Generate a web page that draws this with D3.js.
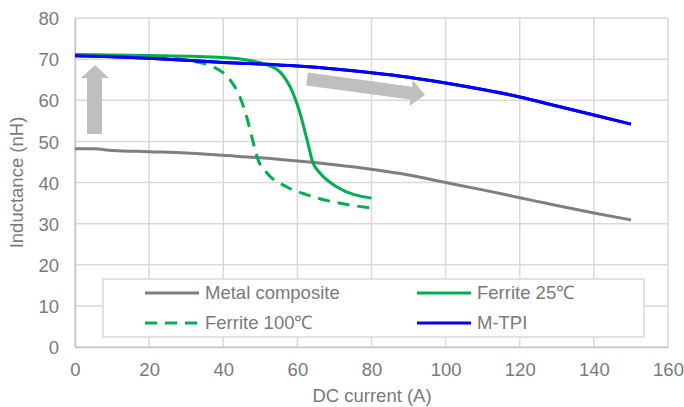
<!DOCTYPE html>
<html>
<head>
<meta charset="utf-8">
<script src="https://cdn.jsdelivr.net/npm/d3@7"></script>
<style>
  body { margin: 0; background: #fff; }
  text { font-family: "Liberation Sans", Arial, sans-serif; fill: #7a7a7a; }
</style>
</head>
<body>
<svg id="chart" width="684" height="407"></svg>
<script>
// values
const metalCurrent = [0, 5, 10, 20, 30, 40, 50, 60, 70, 80, 90, 100, 110, 120, 130, 140, 150];
const metalL = [48.2, 48.2, 47.8, 47.5, 47.2, 46.6, 46.0, 45.2, 44.3, 43.2, 41.8, 40.0, 38.2, 36.3, 34.4, 32.6, 30.9];

const tpiCurrent = [0, 10, 20, 30, 40, 50, 60, 70, 80, 90, 100, 110, 120, 130, 140, 150];
const tpiL = [70.8, 70.6, 70.2, 69.7, 69.2, 68.8, 68.3, 67.6, 66.7, 65.6, 64.2, 62.6, 60.8, 58.6, 56.4, 54.2];

const f25Current = [0, 20, 40, 46.4, 51.8, 55.3, 58.8, 60.7, 62.6, 64.2, 66.1, 70.7, 80];
const f25L = [71.1, 70.9, 70.4, 69.8, 68.6, 66.9, 61.8, 56.9, 50.4, 44.8, 42.3, 38.9, 36.2];

const f100Current = [0, 20, 31, 37.3, 41.8, 44.5, 46.3, 47.7, 49.4, 51.8, 57.2, 62.6, 69.6, 80];
const f100L = [71.0, 70.6, 69.6, 68.1, 65.0, 60.8, 56.0, 51.1, 45.5, 42.3, 38.9, 37.0, 35.3, 33.8];

const xTicks = [0, 20, 40, 60, 80, 100, 120, 140, 160];
const yTicks = [0, 10, 20, 30, 40, 50, 60, 70, 80];

const series = [
  { name: 'Metal composite', xs: metalCurrent, ys: metalL, color: '#7f7f7f', dash: null },
  { name: 'Ferrite 25℃', xs: f25Current, ys: f25L, color: '#00b050', dash: null },
  { name: 'Ferrite 100℃', xs: f100Current, ys: f100L, color: '#00b050', dash: '12,8' },
  { name: 'M-TPI', xs: tpiCurrent, ys: tpiL, color: '#0000ff', dash: null },
];

const svg = d3.select('#chart');
const plotLeft = 75, plotRight = 668, plotTop = 18, plotBottom = 347;
const fontSize = 18.5;

const x = d3.scaleLinear().domain([0, 160]).range([plotLeft, plotRight]);
const y = d3.scaleLinear().domain([0, 80]).range([plotBottom, plotTop]);

// grid
const grid = svg.append('g');
grid.selectAll('.vg').data(xTicks).join('line')
  .attr('x1', (d) => x(d)).attr('x2', (d) => x(d))
  .attr('y1', plotTop).attr('y2', plotBottom)
  .attr('stroke', '#d9d9d9').attr('stroke-width', 1.5);
grid.selectAll('.hg').data(yTicks).join('line')
  .attr('x1', plotLeft).attr('x2', plotRight)
  .attr('y1', (d) => y(d)).attr('y2', (d) => y(d))
  .attr('stroke', '#d9d9d9').attr('stroke-width', 1.5);

// axes
const xAxisG = svg.append('g').attr('transform', `translate(0,${plotBottom})`)
  .call(d3.axisBottom(x).tickValues(xTicks).tickSize(0).tickPadding(16));
const yAxisG = svg.append('g').attr('transform', `translate(${plotLeft},0)`)
  .call(d3.axisLeft(y).tickValues(yTicks).tickSize(0).tickPadding(16));
[xAxisG, yAxisG].forEach((g) => {
  g.selectAll('.domain').attr('stroke', '#c8c8c8').attr('stroke-width', 1.5);
  g.selectAll('.tick text').attr('font-size', fontSize).attr('fill', '#7a7a7a')
    .style('font-family', '"Liberation Sans", Arial, sans-serif');
});
yAxisG.selectAll('.tick text').attr('dy', '0.36em');

svg.append('text').attr('x', 372).attr('y', 402)
  .attr('text-anchor', 'middle').attr('font-size', fontSize).text('DC current (A)');
svg.append('text').attr('transform', `translate(23,${(plotTop + plotBottom) / 2}) rotate(-90)`)
  .attr('text-anchor', 'middle').attr('font-size', fontSize).text('Inductance (nH)');

// arrows (annotation)
const arrowFill = '#bfbfbf';
const up = [[87, 134], [87, 78], [81, 78], [95, 65], [109, 78], [102, 78], [102, 134]];
svg.append('path').attr('d', d3.line()(up) + 'Z').attr('fill', arrowFill);

const ax0 = 307, ay0 = 79, ax1 = 425, ay1 = 95;
const ang = Math.atan2(ay1 - ay0, ax1 - ax0) * 180 / Math.PI;
const len = Math.hypot(ax1 - ax0, ay1 - ay0);
const rightArrow = [[0, -6.5], [len - 14, -6.5], [len - 14, -13], [len, 0], [len - 14, 13], [len - 14, 6.5], [0, 6.5]];
svg.append('path').attr('d', d3.line()(rightArrow) + 'Z')
  .attr('transform', `translate(${ax0},${ay0}) rotate(${ang})`)
  .attr('fill', arrowFill);

// series
const line = d3.line().x((d) => x(d[0])).y((d) => y(d[1])).curve(d3.curveMonotoneX);
const drawOrder = [series[0], series[2], series[3], series[1]];
drawOrder.forEach((s) => {
  svg.append('path')
    .datum(s.xs.map((v, i) => [v, s.ys[i]]))
    .attr('d', line)
    .attr('fill', 'none')
    .attr('stroke', s.color)
    .attr('stroke-width', 3)
    .attr('stroke-dasharray', s.dash);
});
// keep blue over green at the start like the reference
svg.append('path')
  .datum(tpiCurrent.map((v, i) => [v, tpiL[i]]))
  .attr('d', line).attr('fill', 'none').attr('stroke', '#0000ff').attr('stroke-width', 3);

// legend
const legend = svg.append('g');
legend.append('rect').attr('x', 103).attr('y', 279).attr('width', 541).attr('height', 58)
  .attr('fill', '#fff').attr('stroke', '#d9d9d9').attr('stroke-width', 1.5);
const legendPos = [[145, 293], [417, 293], [145, 323], [417, 323]];
series.forEach((s, i) => {
  const [lx, ly] = legendPos[i];
  legend.append('line').attr('x1', lx).attr('x2', lx + 54).attr('y1', ly).attr('y2', ly)
    .attr('stroke', s.color).attr('stroke-width', 3).attr('stroke-dasharray', s.dash);
  legend.append('text').attr('x', lx + 60).attr('y', ly).attr('dy', '0.35em')
    .attr('font-size', fontSize).text(s.name);
});
</script>
</body>
</html>
